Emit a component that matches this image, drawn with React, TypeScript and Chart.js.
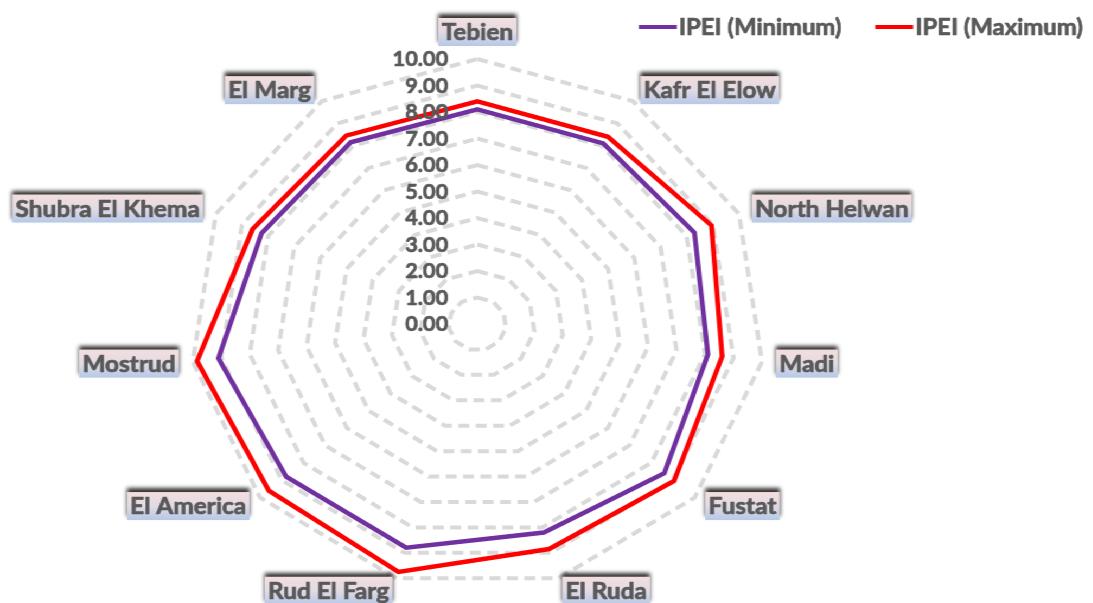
import React, { useEffect, useRef } from "react";
import { Chart, registerables } from "chart.js";

Chart.register(...registerables);

// Districts around the radar, clockwise from the top
const DISTRICTS = [
  "Tebien",
  "Kafr El Elow",
  "North Helwan",
  "Madi",
  "Fustat",
  "El Ruda",
  "Rud El Farg",
  "El America",
  "Mostrud",
  "Shubra El Khema",
  "El Marg",
];

const IPEI_MIN = [8.1, 8.1, 8.3, 8.1, 8.6, 8.2, 8.8, 8.8, 9.1, 8.25, 8.15];
const IPEI_MAX = [8.4, 8.4, 8.95, 8.6, 9.05, 8.85, 9.75, 9.6, 9.85, 8.6, 8.45];

const SERIES_NAMES = ["IPEI (Minimum)", "IPEI (Maximum)"];
const SERIES_COLORS = ["#7030a0", "#ff0000"];

const TICK_VALUES = [0, 1, 2, 3, 4, 5, 6, 7, 8, 9, 10];
const TICK_LABELS = ["0.00", "1.00", "2.00", "3.00", "4.00", "5.00", "6.00", "7.00", "8.00", "9.00", "10.00"];

// the whole drawing is widened horizontally by this factor
const STRETCH_X = 1.085;
const PAGE_W = 1093;
const PAGE_H = 603;
const CANVAS_W = Math.round(PAGE_W / STRETCH_X);

const TEXT_COLOR = "#595959";
const FONT_FAMILY = "Lato, 'Open Sans', sans-serif";
const LABEL_FONT = `bold 22.5px ${FONT_FAMILY}`;
const TICK_FONT = `bold 20px ${FONT_FAMILY}`;
const LEGEND_FONT = `bold 22px ${FONT_FAMILY}`;

// filled text with a thin outline of the same colour for a heavier weight
function heavyText(ctx: CanvasRenderingContext2D, text: string, x: number, y: number) {
  ctx.fillStyle = TEXT_COLOR;
  ctx.strokeStyle = TEXT_COLOR;
  ctx.lineWidth = 0.7;
  ctx.lineJoin = "round";
  ctx.fillText(text, x, y);
  ctx.strokeText(text, x, y);
}

function drawLabelBox(
  ctx: CanvasRenderingContext2D,
  text: string,
  x: number,
  y: number,
  align: "left" | "right" | "center",
  vAlign: "middle" | "bottom"
) {
  ctx.font = LABEL_FONT;
  const w = ctx.measureText(text).width + 6;
  const h = 28;
  const left = align === "left" ? x : align === "right" ? x - w : x - w / 2;
  const top = vAlign === "bottom" ? y - h : y - h / 2;

  ctx.save();
  ctx.shadowColor = "rgba(0,0,0,0.8)";
  ctx.shadowBlur = 4;
  ctx.shadowOffsetY = -4;
  const g = ctx.createLinearGradient(0, top, 0, top + h);
  g.addColorStop(0, "#f4dede");
  g.addColorStop(0.5, "#e2dbe4");
  g.addColorStop(1, "#b5c9e8");
  ctx.fillStyle = g;
  ctx.fillRect(left, top, w, h);
  ctx.restore();

  ctx.save();
  ctx.font = LABEL_FONT;
  ctx.textAlign = "left";
  ctx.textBaseline = "middle";
  heavyText(ctx, text, left + 3, top + h / 2 + 1);
  ctx.restore();
}

const decorations = {
  id: "radarDecorations",
  afterDatasetsDraw(chart: any) {
    const ctx: CanvasRenderingContext2D = chart.ctx;
    const scale = chart.scales.r;
    const cx = scale.xCenter;
    const cy = scale.yCenter;

    // value axis labels, right-aligned beside the vertical spoke
    ctx.save();
    ctx.font = TICK_FONT;
    ctx.textAlign = "right";
    ctx.textBaseline = "middle";
    TICK_VALUES.forEach((v, i) => {
      const d = scale.getDistanceFromCenterForValue(v);
      heavyText(ctx, TICK_LABELS[i], cx - 27, cy - d + 1);
    });
    ctx.restore();

    // category labels in shaded boxes
    const outer = scale.drawingArea + 13;
    DISTRICTS.forEach((name, i) => {
      const p = scale.getPointPosition(i, outer);
      const dx = p.x - cx;
      if (Math.abs(dx) < 2) {
        drawLabelBox(ctx, name, p.x, p.y, "center", "bottom");
      } else {
        drawLabelBox(ctx, name, p.x, p.y, dx > 0 ? "left" : "right", "middle");
      }
    });

    // legend, top right
    ctx.save();
    ctx.font = LEGEND_FONT;
    const lineLen = 35;
    const gap = 2;
    const itemSpacing = 31;
    const widths = SERIES_NAMES.map((n) => lineLen + gap + ctx.measureText(n).width);
    const total = widths.reduce((a, b) => a + b, 0) + itemSpacing * (widths.length - 1);
    let x = 998 - total;
    const ly = 27;
    SERIES_NAMES.forEach((n, i) => {
      ctx.strokeStyle = SERIES_COLORS[i];
      ctx.lineWidth = 4;
      ctx.beginPath();
      ctx.moveTo(x, ly);
      ctx.lineTo(x + lineLen, ly);
      ctx.stroke();
      ctx.textAlign = "left";
      ctx.textBaseline = "middle";
      heavyText(ctx, n, x + lineLen + gap, ly + 1);
      x += widths[i] + itemSpacing;
    });
    ctx.restore();
  },
};

export default function App() {
  const canvasRef = useRef<HTMLCanvasElement | null>(null);

  useEffect(() => {
    const canvas = canvasRef.current;
    if (!canvas) return;
    const chart = new Chart(canvas, {
      type: "radar",
      data: {
        labels: DISTRICTS,
        datasets: [
          {
            label: SERIES_NAMES[0],
            data: IPEI_MIN,
            borderColor: SERIES_COLORS[0],
            backgroundColor: "transparent",
            borderWidth: 4.5,
            pointRadius: 0,
            fill: false,
            borderJoinStyle: "miter",
          },
          {
            label: SERIES_NAMES[1],
            data: IPEI_MAX,
            borderColor: SERIES_COLORS[1],
            backgroundColor: "transparent",
            borderWidth: 4.5,
            pointRadius: 0,
            fill: false,
            borderJoinStyle: "miter",
          },
        ],
      },
      options: {
        responsive: false,
        animation: false,
        devicePixelRatio: 1,
        layout: {
          padding: { left: 175, right: CANVAS_W - 705, top: 59, bottom: 14 },
        },
        plugins: {
          legend: { display: false },
          tooltip: { enabled: false },
        },
        scales: {
          r: {
            min: 0,
            max: 10,
            ticks: { stepSize: 1, display: false },
            pointLabels: { display: false },
            angleLines: { display: false },
            grid: { color: "#d9d9d9", lineWidth: 4 },
            border: { dash: [10, 6] },
          },
        },
      },
      plugins: [decorations],
    } as any);
    return () => chart.destroy();
  }, []);

  return (
    <div
      style={{
        position: "fixed",
        left: 0,
        top: 0,
        width: CANVAS_W,
        height: PAGE_H,
        background: "#ffffff",
        transform: `scaleX(${STRETCH_X})`,
        transformOrigin: "0 0",
      }}
    >
      <canvas ref={canvasRef} width={CANVAS_W} height={PAGE_H} />
    </div>
  );
}
